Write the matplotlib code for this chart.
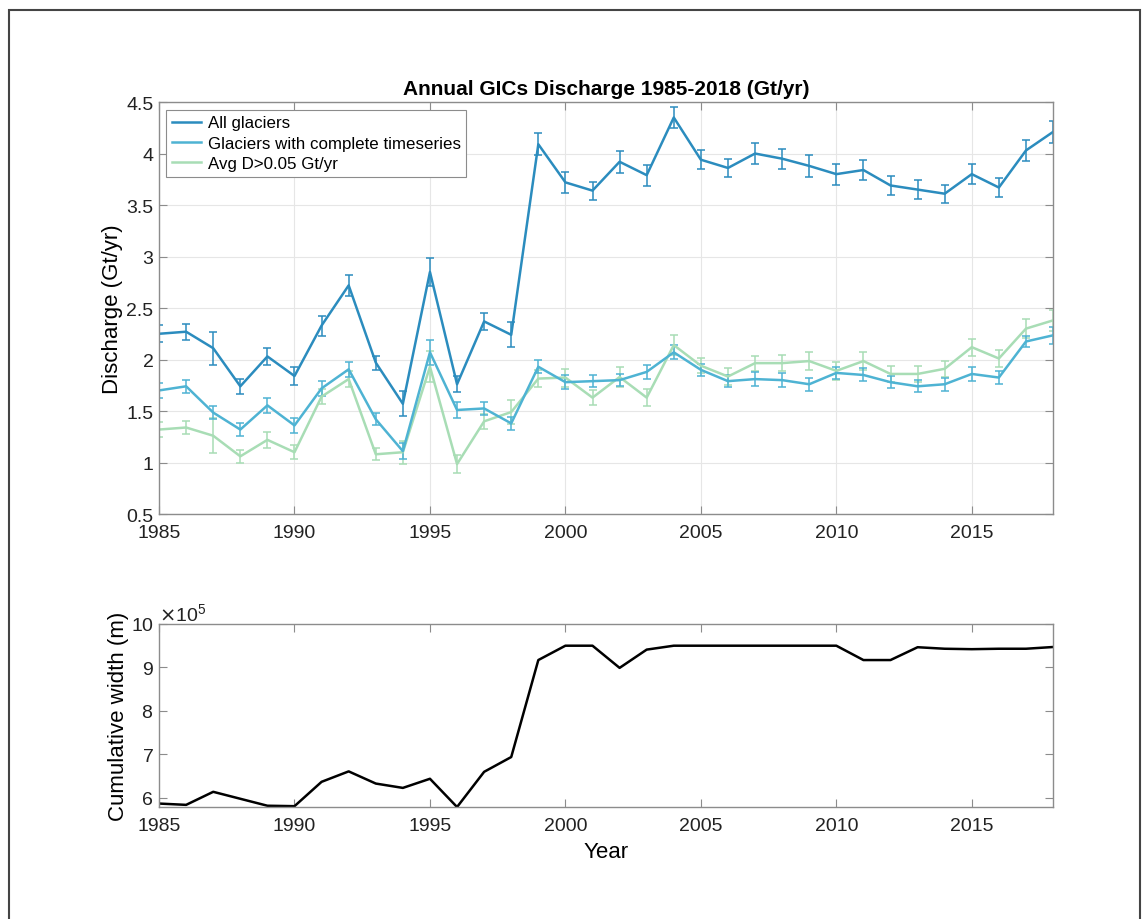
import numpy as np
import matplotlib.pyplot as plt
from matplotlib.ticker import FuncFormatter, ScalarFormatter
from matplotlib.patches import Rectangle
from matplotlib.lines import Line2D

plt.rcParams['font.family'] = ['Liberation Sans', 'DejaVu Sans']

years = np.arange(1985, 2019)

# annual discharge (Gt/yr) and uncertainty
all_gl = [2.25, 2.27, 2.11, 1.74, 2.03, 1.84, 2.33, 2.72, 1.97, 1.57,
          2.85, 1.76, 2.37, 2.24, 4.09, 3.72, 3.64, 3.92, 3.79, 4.35,
          3.94, 3.86, 4.00, 3.95, 3.88, 3.80, 3.84, 3.69, 3.65, 3.61,
          3.80, 3.67, 4.03, 4.21]
all_err = [0.084, 0.076, 0.16, 0.073, 0.08, 0.086, 0.097, 0.10, 0.068, 0.12,
           0.14, 0.08, 0.086, 0.12, 0.105, 0.10, 0.087, 0.105, 0.103, 0.105,
           0.094, 0.09, 0.10, 0.098, 0.103, 0.103, 0.097, 0.092, 0.089, 0.087,
           0.10, 0.09, 0.105, 0.11]

complete = [1.70, 1.74, 1.485, 1.32, 1.555, 1.36, 1.72, 1.905, 1.42, 1.11,
            2.07, 1.51, 1.525, 1.38, 1.93, 1.78, 1.79, 1.80, 1.88, 2.07,
            1.90, 1.79, 1.81, 1.80, 1.76, 1.87, 1.85, 1.78, 1.74, 1.76,
            1.86, 1.825, 2.175, 2.235]
complete_err = [0.073, 0.065, 0.065, 0.063, 0.073, 0.076, 0.07, 0.07, 0.057, 0.08,
                0.12, 0.076, 0.063, 0.065, 0.065, 0.065, 0.06, 0.06, 0.066, 0.068,
                0.06, 0.055, 0.068, 0.065, 0.063, 0.06, 0.063, 0.06, 0.06, 0.065,
                0.065, 0.06, 0.055, 0.085]

big = [1.32, 1.34, 1.26, 1.06, 1.22, 1.10, 1.64, 1.81, 1.08, 1.10,
       1.93, 0.985, 1.40, 1.49, 1.815, 1.825, 1.63, 1.83, 1.63, 2.14,
       1.94, 1.835, 1.965, 1.965, 1.985, 1.89, 1.985, 1.86, 1.86, 1.91,
       2.12, 2.01, 2.30, 2.38]
big_err = [0.073, 0.065, 0.17, 0.065, 0.076, 0.068, 0.07, 0.08, 0.06, 0.11,
           0.15, 0.09, 0.07, 0.12, 0.08, 0.087, 0.073, 0.097, 0.084, 0.10,
           0.07, 0.08, 0.073, 0.08, 0.084, 0.084, 0.084, 0.078, 0.078, 0.08,
           0.084, 0.08, 0.09, 0.10]

# cumulative terminus width (m)
width = [5.87e5, 5.84e5, 6.14e5, 5.98e5, 5.82e5, 5.81e5, 6.37e5, 6.61e5, 6.33e5, 6.23e5,
         6.44e5, 5.79e5, 6.60e5, 6.94e5, 9.17e5, 9.50e5, 9.50e5, 8.99e5, 9.41e5, 9.50e5,
         9.50e5, 9.50e5, 9.50e5, 9.50e5, 9.50e5, 9.50e5, 9.17e5, 9.17e5, 9.465e5, 9.43e5,
         9.42e5, 9.43e5, 9.43e5, 9.47e5]

c_all = '#2b8cbe'
c_comp = '#4eb3d3'
c_big = '#a8ddb5'
box_col = '#8c8c8c'

fig = plt.figure(figsize=(11.45, 9.2), dpi=100)
fig.patches.append(Rectangle((9 / 1145, -0.05), 1131 / 1145, 1.05 - 11 / 920,
                             transform=fig.transFigure, fill=False,
                             edgecolor='#444444', linewidth=1.5))

ax1 = fig.add_axes([0.1389, 0.4402, 0.7808, 0.4478])
ax2 = fig.add_axes([0.1389, 0.1217, 0.7808, 0.1990])


def style(ax):
    for s in ax.spines.values():
        s.set_color(box_col)
        s.set_linewidth(1.0)
    ax.tick_params(direction='in', top=True, right=True, color=box_col,
                   labelcolor='#222222', labelsize=14, length=6, width=0.8)
    ax.tick_params(axis='y', pad=4)
    ax.tick_params(axis='x', pad=7)


series = [(big, big_err, c_big), (complete, complete_err, c_comp),
          (all_gl, all_err, c_all)]
for y, e, c in series:
    ax1.errorbar(years, y, yerr=e, color=c, lw=1.8, elinewidth=1.1,
                 capsize=3, capthick=1.1)

ax1.set_xlim(1985, 2018)
ax1.set_ylim(0.5, 4.5)
ax1.set_xticks(np.arange(1985, 2019, 5))
ax1.set_yticks(np.arange(0.5, 4.51, 0.5))
ax1.yaxis.set_major_formatter(FuncFormatter(lambda v, p: '%g' % v))
ax1.grid(True, color='#e6e6e6', lw=0.8)
ax1.set_axisbelow(True)
style(ax1)
ax1.set_ylabel('Discharge (Gt/yr)', fontsize=16, labelpad=2)
ax1.set_title('Annual GICs Discharge 1985-2018 (Gt/yr)', fontsize=15,
              fontweight='bold', pad=6)

handles = [Line2D([], [], color=c_all, lw=1.8),
           Line2D([], [], color=c_comp, lw=1.8),
           Line2D([], [], color=c_big, lw=1.8)]
labels = ['All glaciers', 'Glaciers with complete timeseries', 'Avg D>0.05 Gt/yr']
leg = ax1.legend(handles, labels, loc='upper left', fontsize=12.2,
                 handlelength=1.7, handletextpad=0.4, borderpad=0.35,
                 labelspacing=0.32, fancybox=False, framealpha=1,
                 bbox_to_anchor=(0.004, 0.99), borderaxespad=0.2)
leg.get_frame().set_edgecolor(box_col)
leg.get_frame().set_linewidth(0.8)

ax2.plot(years, width, color='black', lw=1.8)
ax2.set_xlim(1985, 2018)
ax2.set_ylim(min(width), 10e5)
ax2.set_xticks(np.arange(1985, 2019, 5))
ax2.set_yticks(np.arange(6e5, 10.01e5, 1e5))
fmt = ScalarFormatter(useMathText=True)
fmt.set_powerlimits((5, 5))
ax2.yaxis.set_major_formatter(fmt)
style(ax2)
ax2.yaxis.get_offset_text().set_fontsize(14)
ax2.set_ylabel('Cumulative width (m)', fontsize=16, labelpad=1)
ax2.set_xlabel('Year', fontsize=16, labelpad=5)

fig.savefig('out.png', dpi=100)
